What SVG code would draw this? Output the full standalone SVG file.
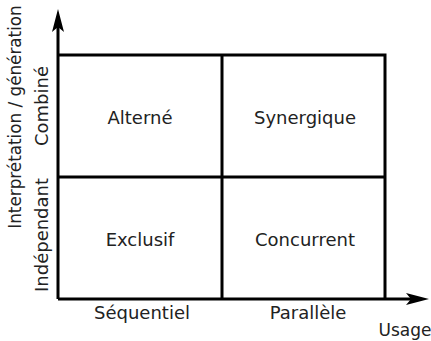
<svg xmlns="http://www.w3.org/2000/svg" width="431" height="341" viewBox="0 0 431 341">
<defs>
<style>
.t{font-family:"DejaVu Sans","Liberation Sans",sans-serif;font-size:18px;fill:#222;text-anchor:middle}
.l{stroke:#000;stroke-width:3;fill:none}
</style>
</defs>
<rect width="431" height="341" fill="#fff"/>
<g id="connectors">
<path d="M58,299 V20" class="l"/>
<path d="M52,32 L58,9 L64,32 L58,27 Z" fill="#000"/>
<path d="M58,299 H420" class="l"/>
<path d="M406,293 L429,299 L406,305 L411,299 Z" fill="#000"/>
</g>
<g id="grid">
<path d="M58,55 H385 V299 M58,177 H385 M222,55 V299" class="l"/>
</g>
<g id="alterne"><text class="t" x="140" y="124">Alterné</text></g>
<g id="synergique"><text class="t" x="305" y="124">Synergique</text></g>
<g id="exclusif"><text class="t" x="140" y="246">Exclusif</text></g>
<g id="concurrent"><text class="t" x="305" y="246">Concurrent</text></g>
<g id="xlabels">
<text class="t" x="142" y="319">Séquentiel</text>
<text class="t" x="308" y="319">Parallèle</text>
<text class="t" x="405" y="336" style="font-size:17px">Usage</text>
</g>
<g id="ylabels">
<text class="t" style="font-size:16.8px" transform="translate(21,117) rotate(-90)">Interprétation / génération</text>
<text class="t" transform="translate(48,106) rotate(-90)">Combiné</text>
<text class="t" transform="translate(48,235) rotate(-90)">Indépendant</text>
</g>
</svg>
